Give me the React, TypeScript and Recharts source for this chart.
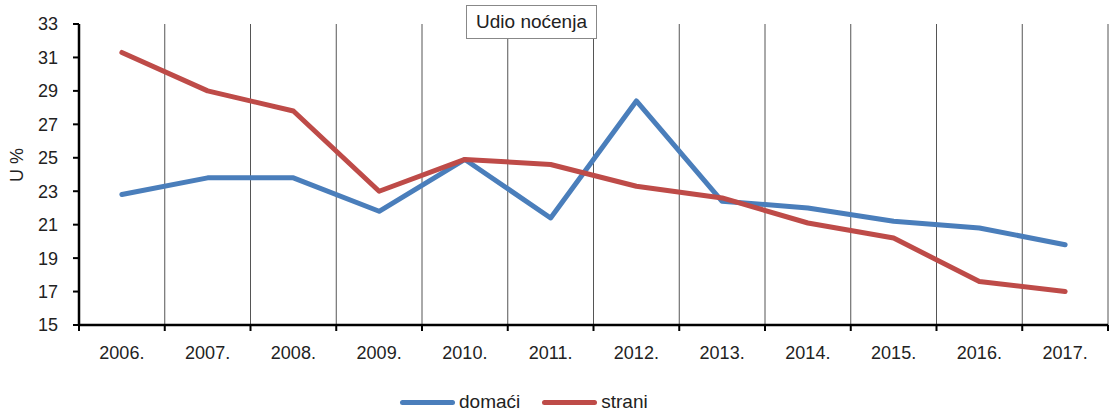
import React from "react";
import { LineChart, Line, XAxis, YAxis, CartesianGrid } from "recharts";

const years = ["2006.", "2007.", "2008.", "2009.", "2010.", "2011.", "2012.", "2013.", "2014.", "2015.", "2016.", "2017."];
const domaci = [22.8, 23.8, 23.8, 21.8, 24.9, 21.4, 28.4, 22.4, 22.0, 21.2, 20.8, 19.8];
const strani = [31.3, 29.0, 27.8, 23.0, 24.9, 24.6, 23.3, 22.6, 21.1, 20.2, 17.6, 17.0];
const yTicks = [15, 17, 19, 21, 23, 25, 27, 29, 31, 33];
const xBoundaries = [0, 1, 2, 3, 4, 5, 6, 7, 8, 9, 10, 11, 12];

const data = years.map((y, i) => ({ x: i + 0.5, year: y, domaci: domaci[i], strani: strani[i] }));

const W = 1110;
const H = 412;
const LEFT = 79;
const RIGHT = 2;
const BAND = (W - LEFT - RIGHT) / years.length;
const FONT = "'Liberation Sans', Arial, sans-serif";
const BLUE = "#4A7EBB";
const RED = "#BE4B48";

const XTick = (props: any) => {
  const { x, y, payload } = props;
  const v = payload.value;
  if (v >= years.length) return null;
  return (
    <text x={x + BAND / 2} y={y} dy={26} textAnchor="middle" fill="#222" fontSize={18} fontFamily={FONT}>
      {years[v]}
    </text>
  );
};

export default function App() {
  return (
    <div style={{ position: "absolute", left: 0, top: 0, width: W, height: H, fontFamily: FONT, background: "#fff" }}>
      <LineChart width={W} height={H} data={data} margin={{ top: 24, right: RIGHT, left: 0, bottom: 37 }}>
        <CartesianGrid horizontal={false} vertical={true} stroke="#555" strokeWidth={1} />
        <XAxis
          type="number"
          dataKey="x"
          domain={[0, 12]}
          ticks={xBoundaries}
          interval={0}
          height={50}
          axisLine={{ stroke: "#000", strokeWidth: 2.5 }}
          tickLine={{ stroke: "#000", strokeWidth: 2 }}
          tickSize={6}
          tick={<XTick />}
        />
        <YAxis
          domain={[15, 33]}
          ticks={yTicks}
          interval={0}
          width={LEFT}
          axisLine={{ stroke: "#000", strokeWidth: 2.5 }}
          tickLine={{ stroke: "#000", strokeWidth: 2 }}
          tickSize={6}
          tickMargin={15}
          tick={{ fill: "#222", fontSize: 18, fontFamily: FONT }}
        />
        <Line type="linear" dataKey="domaci" stroke={BLUE} strokeWidth={5} dot={false} strokeLinecap="round" strokeLinejoin="round" isAnimationActive={false} />
        <Line type="linear" dataKey="strani" stroke={RED} strokeWidth={5} dot={false} strokeLinecap="round" strokeLinejoin="round" isAnimationActive={false} />
      </LineChart>

      <div
        style={{
          position: "absolute",
          left: 17,
          top: 165,
          transform: "translate(-50%, -50%) rotate(-90deg)",
          fontSize: 18,
          color: "#222",
          whiteSpace: "nowrap",
        }}
      >
        U %
      </div>

      <div
        style={{
          position: "absolute",
          left: 466,
          top: 5,
          width: 131,
          height: 34,
          boxSizing: "border-box",
          border: "1px solid #888",
          background: "#fff",
          fontSize: 19,
          color: "#222",
          display: "flex",
          alignItems: "center",
          justifyContent: "center",
          whiteSpace: "nowrap",
        }}
      >
        Udio noćenja
      </div>

      <div style={{ position: "absolute", left: 400, top: 391, height: 22, display: "flex", alignItems: "center", fontSize: 19, color: "#222" }}>
        <span style={{ display: "inline-block", width: 55, height: 5, borderRadius: 3, background: BLUE, marginRight: 4 }} />
        <span>domaći</span>
        <span style={{ display: "inline-block", width: 55, height: 5, borderRadius: 3, background: RED, marginLeft: 22, marginRight: 4 }} />
        <span>strani</span>
      </div>
    </div>
  );
}
